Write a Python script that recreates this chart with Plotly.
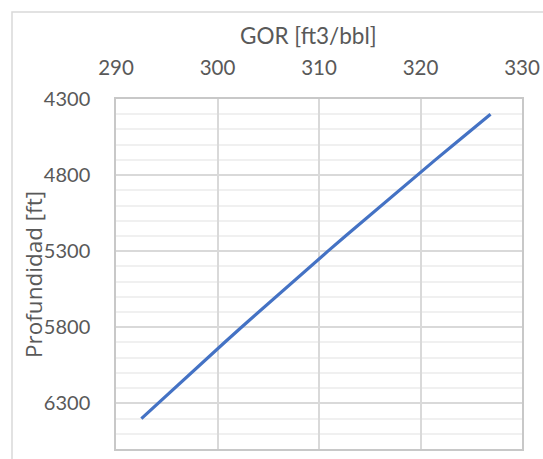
import plotly.graph_objects as go

depth_ft = [6400, 6300, 6200, 6100, 6000, 5900, 5800, 5700, 5600, 5500, 5400,
            5300, 5200, 5100, 5000, 4900, 4800, 4700, 4600, 4500, 4400]
gor_ft3_bbl = [292.50, 294.12, 295.74, 297.38, 299.03, 300.69, 302.36, 304.04,
               305.73, 307.44, 309.15, 310.88, 312.61, 314.36, 316.12, 317.89,
               319.67, 321.46, 323.26, 325.08, 326.90]

x_title = "GOR [ft3/bbl]"
y_title = "Profundidad [ft]"

W, H = 543, 459
L, R, T, B = 116, 21, 99, 10
pw, ph = W - L - R, H - T - B

def px_x(p):
    return (p - L) / pw

def px_y(p):
    return (H - B - p) / ph

FONT = "Lato, Open Sans, sans-serif"
TXT = "#595959"
FS = 20

fig = go.Figure()
fig.add_trace(go.Scatter(
    x=gor_ft3_bbl, y=depth_ft, mode="lines",
    line=dict(color="#4472C4", width=3.2), showlegend=False, hoverinfo="skip"))

fig.update_layout(
    width=W, height=H,
    margin=dict(l=L, r=R, t=T, b=B, autoexpand=False),
    paper_bgcolor="white", plot_bgcolor="white",
    font=dict(family=FONT, size=FS, color=TXT),
    xaxis=dict(
        side="top", range=[290, 330], tick0=290, dtick=10, automargin=False,
        showgrid=True, gridcolor="#d9d9d9", gridwidth=1.5,
        showline=True, linecolor="#c8c8c8", linewidth=1.5, mirror=True,
        zeroline=False, ticks="", ticklabelstandoff=14,
        tickfont=dict(family=FONT, size=20.5, color=TXT),
    ),
    yaxis=dict(
        range=[6600, 4300], tick0=4300, dtick=500, automargin=False,
        showgrid=True, gridcolor="#d9d9d9", gridwidth=1.5,
        showline=True, linecolor="#c8c8c8", linewidth=1.5, mirror=True,
        zeroline=False, ticks="", ticklabelstandoff=20,
        tickfont=dict(family=FONT, size=FS, color=TXT),
        minor=dict(dtick=100, tick0=4300, showgrid=True,
                   gridcolor="#f0f0f0", gridwidth=1.5),
    ),
    annotations=[
        dict(text=x_title, xref="paper", yref="paper",
             x=px_x(308), y=px_y(35), xanchor="center", yanchor="middle",
             showarrow=False, font=dict(family=FONT, size=22.5, color=TXT)),
        dict(text=y_title, xref="paper", yref="paper",
             x=px_x(33), y=px_y(275), xanchor="center", yanchor="middle",
             textangle=-90, showarrow=False,
             font=dict(family="Open Sans, Lato, sans-serif", size=22.5, color=TXT)),
    ],
    shapes=[dict(type="rect", xref="paper", yref="paper",
                 x0=px_x(12), x1=px_x(W + 5), y0=px_y(H + 5), y1=px_y(12),
                 line=dict(color="#d9d9d9", width=1.5), fillcolor="rgba(0,0,0,0)",
                 layer="below")],
)

fig.write_html("out.html", config={"displayModeBar": False},
               post_script="document.body.style.margin='0';document.body.style.overflow='hidden';")
